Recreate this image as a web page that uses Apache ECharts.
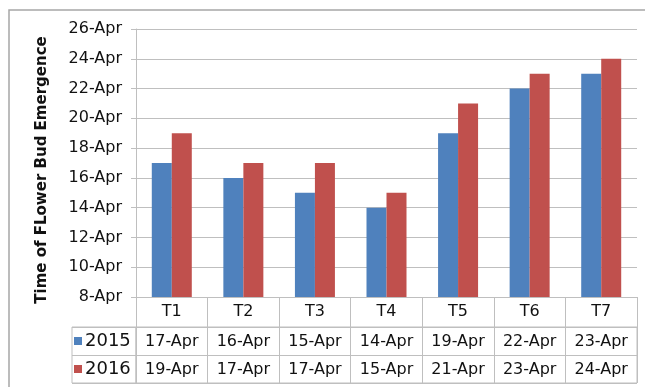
<!DOCTYPE html>
<html>
<head>
<meta charset="utf-8">
<script src="https://cdn.jsdelivr.net/npm/echarts@6/dist/echarts.min.js"></script>
<style>
  html, body { margin: 0; padding: 0; background: #fff; }
  #chart { width: 645px; height: 387px; }
</style>
</head>
<body>
<div id="chart"></div>
<script>
// Treatments and the April day on which flower buds emerged
const categories = ['T1', 'T2', 'T3', 'T4', 'T5', 'T6', 'T7'];
const seriesNames = ['2015', '2016'];
const values2015 = [17, 16, 15, 14, 19, 22, 23];
const values2016 = [19, 17, 17, 15, 21, 23, 24];
const yMin = 8, yMax = 26, yStep = 2;

const FONT = 'DejaVu Sans';
const GRID_COLOR = '#bfbfbf';
const TEXT_COLOR = '#111';
const dayLabel = d => d + '-Apr';

// cells of the data table under the plot: [category index, row index, day]
const tableCells = [];
[values2015, values2016].forEach((vals, r) => {
  vals.forEach((v, i) => tableCells.push([i, r, v]));
});

const chart = echarts.init(document.getElementById('chart'), null, { renderer: 'canvas' });

chart.setOption({
  animation: false,
  backgroundColor: '#fff',
  textStyle: { fontFamily: FONT },
  graphic: [{
    type: 'rect',
    shape: { x: 9, y: 10, width: 700, height: 420 },
    style: { fill: 'none', stroke: '#a6a6a6', lineWidth: 1.5 },
    silent: true
  }],
  legend: {
    data: seriesNames,
    orient: 'vertical',
    left: 74,
    top: 332,
    itemWidth: 8,
    itemHeight: 8,
    itemGap: 10,
    icon: 'rect',
    padding: 0,
    textStyle: { fontFamily: FONT, fontSize: 18, color: TEXT_COLOR, lineHeight: 18, padding: [0, 0, 0, -2] }
  },
  grid: [
    // plot area
    { left: 136, top: 29, width: 501, height: 268 },
    // data table rows
    { left: 136, top: 327, width: 501, height: 56, show: true, borderColor: GRID_COLOR, borderWidth: 1 },
    // legend column of the table
    { left: 72, top: 327, width: 64, height: 56, show: true, borderColor: GRID_COLOR, borderWidth: 1 }
  ],
  xAxis: [
    {
      type: 'category',
      gridIndex: 0,
      data: categories,
      axisLine: { lineStyle: { color: GRID_COLOR } },
      axisTick: { show: true, interval: 0, length: 30, lineStyle: { color: GRID_COLOR } },
      axisLabel: { interval: 0, margin: 7, fontSize: 16, color: TEXT_COLOR, fontFamily: FONT }
    },
    {
      type: 'category',
      gridIndex: 1,
      data: categories,
      axisLine: { show: false },
      axisTick: { show: false },
      axisLabel: { show: false },
      splitLine: { show: true, interval: 0, lineStyle: { color: GRID_COLOR } }
    },
    { type: 'value', gridIndex: 2, show: false }
  ],
  yAxis: [
    {
      type: 'value',
      gridIndex: 0,
      min: yMin,
      max: yMax,
      interval: yStep,
      name: 'Time of FLower Bud Emergence',
      nameLocation: 'middle',
      nameGap: 86,
      nameRotate: 90,
      nameTextStyle: { fontFamily: FONT, fontSize: 15, fontWeight: 'bold', color: TEXT_COLOR, padding: [0, 14, 0, 0] },
      axisLine: { show: true, lineStyle: { color: GRID_COLOR } },
      axisTick: { show: true, length: 5, lineStyle: { color: GRID_COLOR } },
      axisLabel: { formatter: dayLabel, fontSize: 16, color: TEXT_COLOR, fontFamily: FONT, margin: 14 },
      splitLine: { show: true, lineStyle: { color: GRID_COLOR } }
    },
    {
      type: 'category',
      gridIndex: 1,
      data: seriesNames,
      inverse: true,
      axisLine: { show: false },
      axisTick: { show: false },
      axisLabel: { show: false },
      splitLine: { show: true, interval: 0, lineStyle: { color: GRID_COLOR } }
    },
    {
      type: 'category',
      gridIndex: 2,
      data: seriesNames,
      inverse: true,
      axisLine: { show: false },
      axisTick: { show: false },
      axisLabel: { show: false },
      splitLine: { show: true, interval: 0, lineStyle: { color: GRID_COLOR } }
    }
  ],
  series: [
    {
      name: seriesNames[0],
      type: 'bar',
      xAxisIndex: 0,
      yAxisIndex: 0,
      data: values2015,
      barWidth: 20,
      barGap: '0%',
      itemStyle: { color: '#4F81BD' }
    },
    {
      name: seriesNames[1],
      type: 'bar',
      xAxisIndex: 0,
      yAxisIndex: 0,
      data: values2016,
      barWidth: 20,
      barGap: '0%',
      itemStyle: { color: '#C0504D' }
    },
    {
      name: 'table',
      type: 'custom',
      xAxisIndex: 1,
      yAxisIndex: 1,
      data: tableCells,
      encode: { x: 0, y: 1 },
      silent: true,
      renderItem: function (params, api) {
        const p = api.coord([api.value(0), api.value(1)]);
        return {
          type: 'text',
          x: p[0],
          y: p[1] + 1,
          style: {
            text: dayLabel(api.value(2)),
            font: '16px "' + FONT + '"',
            fill: TEXT_COLOR,
            align: 'center',
            verticalAlign: 'middle'
          }
        };
      }
    }
  ]
});
</script>
</body>
</html>
